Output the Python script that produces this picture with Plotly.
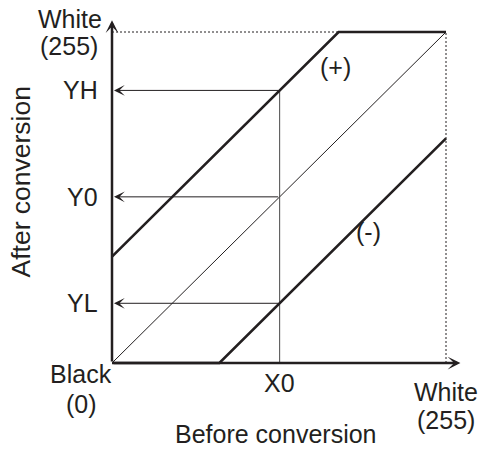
import plotly.graph_objects as go

# Tone-curve diagram: input level (before conversion) vs output level (after conversion)
FULL = 255          # white level
X0 = 128            # reference input level
OFFSET = 82         # brightness shift applied by (+) and (-)
YH = X0 + OFFSET
YL = X0 - OFFSET

identity_x = [0, FULL]
identity_y = [0, FULL]
plus_x = [0, FULL - OFFSET, FULL]
plus_y = [OFFSET, FULL, FULL]
minus_x = [0, OFFSET, FULL]
minus_y = [0, 0, FULL - OFFSET]
levels = [YH, X0, YL]
level_labels = ["YH", "Y0", "YL"]

INK = "#231f20"
THIN = "#4a4a4a"
FONT = dict(family="Liberation Sans, Arial, sans-serif", size=25, color=INK)

# page geometry: where level 0 and level 255 land on the page
W, H = 481, 450
ORG_X, ORG_Y = 112, 363
SX, SY = 334 / FULL, 331 / FULL
x_range = [-ORG_X / SX, (W - ORG_X) / SX]
y_range = [-(H - ORG_Y) / SY, ORG_Y / SY]
X_AXIS_END = 266
Y_AXIS_END = 264

fig = go.Figure()

# dotted frame at the white level
fig.add_trace(go.Scatter(x=[0, FULL - OFFSET], y=[FULL, FULL], mode="lines",
                         line=dict(color=INK, width=1, dash="2px,2px")))
fig.add_trace(go.Scatter(x=[FULL, FULL], y=[0, FULL], mode="lines",
                         line=dict(color=INK, width=1, dash="2px,2px")))

# identity curve
fig.add_trace(go.Scatter(x=identity_x, y=identity_y, mode="lines",
                         line=dict(color=INK, width=1)))
# X0 guide
fig.add_trace(go.Scatter(x=[X0, X0], y=[0, YH], mode="lines",
                         line=dict(color=THIN, width=1)))
# shifted curves
fig.add_trace(go.Scatter(x=plus_x, y=plus_y, mode="lines",
                         line=dict(color=INK, width=2.6)))
fig.add_trace(go.Scatter(x=minus_x, y=minus_y, mode="lines",
                         line=dict(color=INK, width=2.6)))

ann = []
# axes with arrowheads
ann.append(dict(x=X_AXIS_END, y=0, ax=0, ay=0, xref="x", yref="y", axref="x", ayref="y",
                text="", showarrow=True, arrowhead=3, arrowsize=0.85, arrowwidth=2.5,
                arrowcolor=INK))
ann.append(dict(x=0, y=Y_AXIS_END, ax=0, ay=0, xref="x", yref="y", axref="x", ayref="y",
                text="", showarrow=True, arrowhead=3, arrowsize=0.85, arrowwidth=2.5,
                arrowcolor=INK))

# read-out arrows from X0 to the output axis
for lvl, lab in zip(levels, level_labels):
    ann.append(dict(x=0, y=lvl, ax=X0, ay=lvl, xref="x", yref="y", axref="x", ayref="y",
                    text="", showarrow=True, arrowhead=3, arrowsize=1.8, arrowwidth=1,
                    arrowcolor=INK, standoff=2))
    ann.append(dict(x=0, y=lvl, text=lab, showarrow=False, xanchor="right",
                    xshift=-12, font=FONT))


def label(text, x, y, xs=0, ys=0, **kw):
    d = dict(x=x, y=y, text=text, showarrow=False, xshift=xs, yshift=ys, font=FONT)
    d.update(kw)
    ann.append(d)


label("White", 0, FULL, xs=-42, ys=13)
label("(255)", 0, FULL, xs=-43, ys=-14)
label("Black", 0, 0, xs=-31, ys=-11)
label("(0)", 0, 0, xs=-31, ys=-41)
label("X0", X0, 0, ys=-20)
label("White", FULL, 0, ys=-29)
label("(255)", FULL, 0, ys=-57)
label("Before conversion", FULL / 2, 0, xs=-3, ys=-71)
label("After conversion", 0, FULL / 2, xs=-92, ys=15, textangle=-90,
      font=dict(FONT, size=26.5))
label("(+)", 171, 228)
label("(-)", 196, 101)

fig.update_layout(
    width=W, height=H,
    margin=dict(l=0, r=0, t=0, b=0),
    paper_bgcolor="white", plot_bgcolor="white",
    showlegend=False,
    xaxis=dict(range=x_range, visible=False, fixedrange=True),
    yaxis=dict(range=y_range, visible=False, fixedrange=True),
    annotations=ann,
)

fig.write_html("out.html")
